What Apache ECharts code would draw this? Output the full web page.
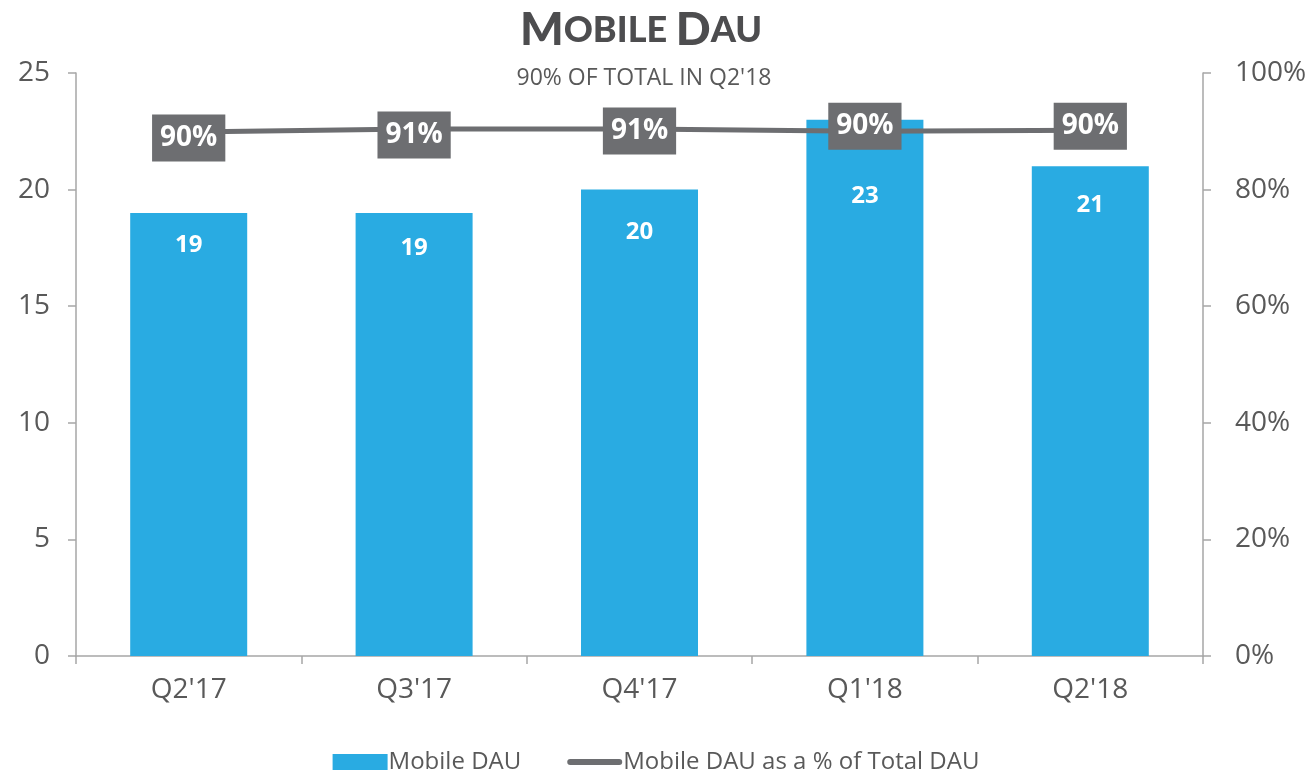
<!DOCTYPE html>
<html>
<head>
<meta charset="utf-8">
<title>Mobile DAU</title>
<script src="https://cdn.jsdelivr.net/npm/echarts@6/dist/echarts.min.js"></script>
<style>
  html, body { margin: 0; padding: 0; background: #fff; }
  #main { width: 1312px; height: 779px; }
</style>
</head>
<body>
<div id="main"></div>
<script>
  // data
  var quarters = ["Q2'17", "Q3'17", "Q4'17", "Q1'18", "Q2'18"];
  var mobileDau = [19, 19, 20, 23, 21];
  var mobileShare = [89.9, 90.4, 90.4, 90.0, 90.2];
  var shareLabels = ['90%', '91%', '91%', '90%', '90%'];

  var font = '"Open Sans", "Noto Sans", sans-serif';
  var grey = '#595959';
  var chart = echarts.init(document.getElementById('main'));

  // label placement as in the slide (hand-moved labels)
  var barLabelGap = [20, 23, 31, 65, 27];
  var pctLabelShift = [6, 6, 2, -5, -4];

  chart.setOption({
    animation: false,
    textStyle: { fontFamily: font },
    title: [
      {
        text: '{a|M}{b|OBILE }{a|D}{b|AU}',
        left: 636,
        top: 2,
        textAlign: 'center',
        textStyle: {
          rich: {
            a: { fontFamily: 'Lato', fontWeight: 900, fontSize: 46, color: '#4d4d4f' },
            b: { fontFamily: 'Lato', fontWeight: 900, fontSize: 36, color: '#4d4d4f' }
          }
        }
      },
      {
        text: "90% OF TOTAL IN Q2'18",
        left: 639,
        top: 62,
        textAlign: 'center',
        textStyle: { fontFamily: font, fontSize: 23, fontWeight: 'normal', color: grey }
      }
    ],
    legend: {
      bottom: 0,
      left: 'center',
      itemGap: 46,
      itemWidth: 55,
      itemHeight: 16,
      textStyle: { fontSize: 24, color: grey, padding: [0, 0, 0, -4] },
      data: [
        { name: 'Mobile DAU', icon: 'rect' },
        { name: 'Mobile DAU as a % of Total DAU', icon: 'path://M3,0 H52 A3,3 0 0 1 52,6 H3 A3,3 0 0 1 3,0 Z' }
      ]
    },
    grid: { left: 76, right: 109, top: 73, bottom: 123, containLabel: false },
    xAxis: {
      type: 'category',
      data: quarters,
      axisLine: { lineStyle: { color: '#a6a6a6', width: 1.5 } },
      axisTick: { show: true, length: 8, lineStyle: { color: '#a6a6a6', width: 1.5 } },
      axisLabel: { fontSize: 28, color: grey, margin: 20 }
    },
    yAxis: [
      {
        type: 'value',
        min: 0, max: 25, interval: 5,
        axisLine: { show: true, lineStyle: { color: '#a6a6a6', width: 1.5 } },
        axisTick: { show: true, length: 8, lineStyle: { color: '#a6a6a6', width: 1.5 } },
        splitLine: { show: false },
        axisLabel: { fontSize: 28, color: grey, margin: 26 }
      },
      {
        type: 'value',
        min: 0, max: 100, interval: 20,
        position: 'right',
        axisLine: { show: true, lineStyle: { color: '#a6a6a6', width: 1.5 } },
        axisTick: { show: true, length: 8, lineStyle: { color: '#a6a6a6', width: 1.5 } },
        splitLine: { show: false },
        axisLabel: { fontSize: 28, color: grey, margin: 32, formatter: '{value}%' }
      }
    ],
    series: [
      {
        name: 'Mobile DAU',
        type: 'bar',
        data: mobileDau.map(function (v, i) {
          return { value: v, label: { distance: barLabelGap[i] } };
        }),
        barWidth: 117,
        itemStyle: { color: '#29abe2' },
        label: {
          show: true,
          position: 'insideTop',
          color: '#fff',
          fontSize: 24,
          fontWeight: 'bold'
        }
      },
      {
        name: 'Mobile DAU as a % of Total DAU',
        type: 'line',
        yAxisIndex: 1,
        data: mobileShare.map(function (v, i) {
          return { value: v, label: { offset: [0, pctLabelShift[i]] } };
        }),
        showSymbol: true,
        symbol: 'circle',
        symbolSize: 0,
        lineStyle: { color: '#6d6e71', width: 5 },
        itemStyle: { color: '#6d6e71' },
        z: 5,
        label: {
          show: true,
          position: 'inside',
          formatter: function (p) { return shareLabels[p.dataIndex]; },
          backgroundColor: '#6d6e71',
          color: '#fff',
          fontSize: 28,
          fontWeight: 'bold',
          padding: [10, 8, 9, 8]
        }
      }
    ]
  });
</script>
</body>
</html>
